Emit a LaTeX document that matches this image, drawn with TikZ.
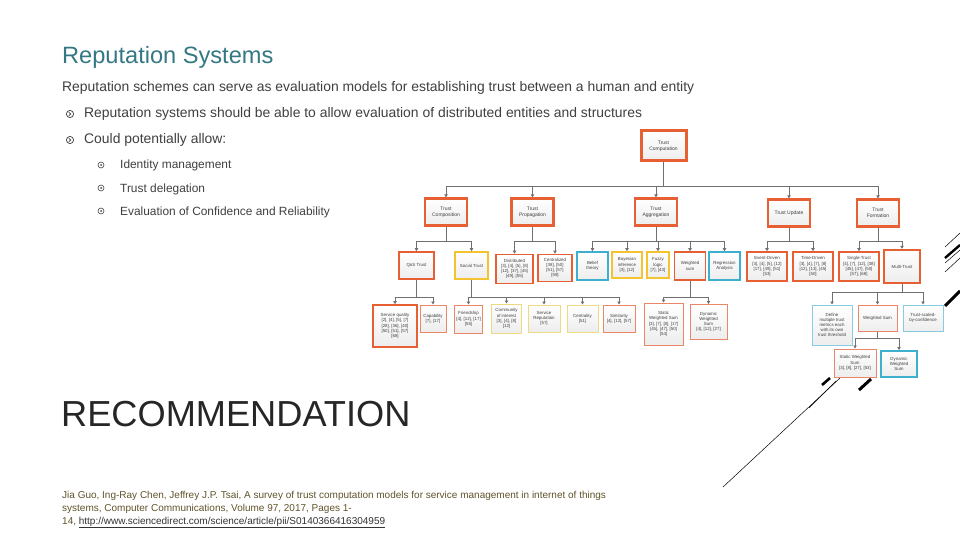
\documentclass[tikz,border=0pt]{standalone}
\usepackage{fontspec}
\setmainfont{Liberation Sans}
\usetikzlibrary{arrows.meta}
\definecolor{titlec}{RGB}{52,120,132}
\definecolor{bodyc}{RGB}{64,64,64}
\definecolor{orc}{RGB}{230,96,52}
\definecolor{orl}{RGB}{234,135,105}
\definecolor{yec}{RGB}{244,196,48}
\definecolor{yel}{RGB}{238,218,130}
\definecolor{blc}{RGB}{60,176,206}
\definecolor{bll}{RGB}{135,204,224}
\definecolor{lnc}{RGB}{112,112,112}
\definecolor{citec}{RGB}{96,84,44}
\tikzset{
  bx/.style={draw=#1, top color=white, bottom color=black!7, align=center, inner sep=0pt,
    text=black!75, font=\fontsize{4.4}{5.2}\selectfont},
  wh/.style 2 args={minimum width=#1pt, minimum height=#2pt},
  lvA/.style={bx=orc, line width=3pt, font=\fontsize{5}{6}\selectfont},
  lvB/.style={bx=orc, line width=2.2pt, font=\fontsize{5}{6}\selectfont},
  oC/.style={bx=orc, line width=1.6pt},
  yC/.style={bx=yec, line width=1.6pt},
  bC/.style={bx=blc, line width=1.6pt},
  oD/.style={bx=orl, line width=1pt},
  yD/.style={bx=yel, line width=1pt},
  bD/.style={bx=bll, line width=1pt},
  conn/.style={draw=lnc, line width=0.8pt, -{Triangle[width=3.4pt,length=3pt]}},
  txt/.style={anchor=base west, inner sep=0pt},
}
\begin{document}
\begin{tikzpicture}[x=1pt,y=-1pt]
\useasboundingbox (0,0) rectangle (960,540);
\fill[white] (0,0) rectangle (960,540);

% ---------- left text ----------
\node[txt, text=titlec, font=\fontsize{23.6}{26}\selectfont] (title) at (62,64) {Reputation Systems};
\node[txt, text=bodyc, font=\fontsize{13.9}{16}\selectfont] (intro) at (62,92) {Reputation schemes can serve as evaluation models for establishing trust between a human and entity};
\node[txt, text=bodyc, font=\fontsize{13.9}{16}\selectfont] (b1) at (84,118) {Reputation systems should be able to allow evaluation of distributed entities and structures};
\node[txt, text=bodyc, font=\fontsize{13.9}{16}\selectfont] (b2) at (84,144) {Could potentially allow:};
\node[txt, text=bodyc, font=\fontsize{11.9}{14}\selectfont] (s1) at (120,169) {Identity management};
\node[txt, text=bodyc, font=\fontsize{11.9}{14}\selectfont] (s2) at (120,192) {Trust delegation};
\node[txt, text=bodyc, font=\fontsize{11.9}{14}\selectfont] (s3) at (120,215) {Evaluation of Confidence and Reliability};
% bullets
\foreach \yy in {114,140}{
  \draw[bodyc, line width=0.7pt] (70,\yy) circle[radius=3.6pt];
  \draw[bodyc, line width=0.7pt] (68.8,\yy-1.8) -- (70.8,\yy) -- (68.8,\yy+1.8);
}
\foreach \yy in {165,188,211}{
  \draw[bodyc, line width=0.6pt] (101,\yy) circle[radius=3pt];
  \fill[bodyc] (101,\yy) circle[radius=1pt];
}
\node[txt, text=black!85, font=\fontsize{36.2}{40}\selectfont] (rec) at (61,426) {RECOMMENDATION};
\node[txt, text=citec, font=\fontsize{10}{11}\selectfont] (c1) at (62,498) {Jia Guo, Ing-Ray Chen, Jeffrey J.P. Tsai, A survey of trust computation models for service management in internet of things};
\node[txt, text=citec, font=\fontsize{10}{11}\selectfont] (c2) at (62,511) {systems, Computer Communications, Volume 97, 2017, Pages 1-};
\node[txt, text=citec, font=\fontsize{10}{11}\selectfont] (c3) at (62,524) {14, {\color{black!80}\underline{http://www.sciencedirect.com/science/article/pii/S0140366416304959}}};

% ---------- diagram ----------
\node[lvA, wh={45}{30}] (top) at (663.5,146) {Trust\\Computation};

\node[lvB, wh={42}{27}] (tc) at (446,212) {Trust\\Composition};
\node[lvB, wh={42}{27}] (tp) at (532.5,212) {Trust\\Propagation};
\node[lvB, wh={42}{27}] (ta) at (656,212) {Trust\\Aggregation};
\node[lvB, wh={42}{27}] (tu) at (789,213) {Trust Update};
\node[lvB, wh={42}{27}] (tf) at (878,213) {Trust\\Formation};

\node[oC, wh={35}{27}] (qos) at (416.5,265.5) {QoS Trust};
\node[yC, wh={33}{27}] (soc) at (471.5,265.5) {Social Trust};
\node[oC, wh={37}{29}] (dist) at (514.5,269) {Distributed\\{}[3], [4], [5], [8]\\{}[12], [37], [45]\\{}[49], [55]};
\node[oC, wh={34}{27}] (cent) at (555,268) {Centralized\\{}[38], [50]\\{}[51], [57]\\{}[59]};
\node[bC, wh={31}{28}] (bel) at (592.5,266) {Belief\\theory};
\node[yC, wh={30}{26}] (bay) at (627,265) {Bayesian\\inference\\{}[3], [12]};
\node[yC, wh={22}{26}] (fuz) at (658,265) {Fuzzy\\logic\\{}[7], [43]};
\node[oC, wh={31}{28}] (ws) at (690,266) {Weighted\\sum};
\node[bC, wh={31}{28}] (reg) at (724.5,266) {Regression\\Analysis};
\node[oC, wh={40}{29}] (ev) at (767,266.5) {Event-Driven\\{}[3], [4], [5], [12]\\{}[17], [49], [51]\\{}[53]};
\node[oC, wh={40}{29}] (td) at (813,266.5) {Time-Driven\\{}[3], [4], [7], [8]\\{}[12], [13], [45]\\{}[50]};
\node[oC, wh={40}{29}] (st) at (859,266.5) {Single-Trust\\{}[4], [7], [12], [38]\\{}[45], [47], [50]\\{}[57], [68]};
\node[bx=orc, line width=2.4pt, wh={36}{33}] (mt) at (902,266.5) {Multi-Trust};

\node[oC, wh={44}{42}] (sq) at (395,326) {Service quality\\{}[2], [4], [5], [7]\\{}[28], [36], [40]\\{}[50], [51], [57]\\{}[68]};
\node[oD, wh={26}{27}] (cap) at (433,318.5) {Capability\\{}[7], [17]};
\node[oD, wh={28}{28}] (fr) at (468.5,319) {Friendship\\{}[4], [12], [17]\\{}[55]};
\node[yD, wh={30}{29}] (coi) at (506.5,318.5) {Community\\of interest\\{}[3], [4], [8]\\{}[12]};
\node[yD, wh={32}{27}] (srep) at (544,318.5) {Service\\Reputation\\{}[57]};
\node[yD, wh={31}{27}] (cen) at (582.5,318.5) {Centrality\\{}[51]};
\node[oD, wh={32}{27}] (sim) at (619,318.5) {Similarity\\{}[4], [12], [57]};
\node[oD, wh={39}{42}] (sws) at (663.5,324) {Static\\Weighted Sum\\{}[3], [7], [8], [17]\\{}[45], [47], [50]\\{}[54]};
\node[oD, wh={37}{35}] (dws) at (708.5,322) {Dynamic\\Weighted\\Sum\\{}[4], [12], [27]};

\node[bD, wh={40}{40}] (def) at (832,325) {Define\\multiple trust\\metrics each\\with its own\\trust threshold};
\node[oD, wh={39}{26}] (mws) at (877.5,318) {Weighted Sum};
\node[bD, wh={40}{26}] (tsc) at (923,318) {Trust-scaled-\\by-confidence};

\node[oD, wh={42}{28}] (sws2) at (855,363) {Static Weighted\\Sum\\{}[3], [8], [27], [53]};
\node[bx=blc, line width=1.8pt, wh={36}{26}] (dws2) at (899,364) {Dynamic\\Weighted\\Sum};

% level rails
\coordinate (r1) at (0,186);
\coordinate (r2) at (0,241);
\coordinate (r3) at (0,297);
\coordinate (r4) at (0,292);
\coordinate (r5) at (0,338);

\foreach \c in {tc,tp,ta,tu,tf}{\draw[conn] (top.south) |- (r1 -| \c) -- (\c.north);}
\foreach \c in {qos,soc}{\draw[conn] (tc.south) |- (r2 -| \c) -- (\c.north);}
\foreach \c in {dist,cent}{\draw[conn] (tp.south) |- (r2 -| \c) -- (\c.north);}
\foreach \c in {bel,bay,fuz,ws,reg}{\draw[conn] (ta.south) |- (r2 -| \c) -- (\c.north);}
\foreach \c in {ev,td}{\draw[conn] (tu.south) |- (r2 -| \c) -- (\c.north);}
\foreach \c in {st,mt}{\draw[conn] (tf.south) |- (r2 -| \c) -- (\c.north);}
\foreach \c in {sq,cap}{\draw[conn] (qos.south) |- (r3 -| \c) -- (\c.north);}
\foreach \c in {fr,coi,srep,cen,sim}{\draw[conn] (soc.south) |- (r3 -| \c) -- (\c.north);}
\foreach \c in {sws,dws}{\draw[conn] (ws.south) |- (r3 -| \c) -- (\c.north);}
\foreach \c in {def,mws,tsc}{\draw[conn] (mt.south) |- (r4 -| \c) -- (\c.north);}
\foreach \c in {sws2,dws2}{\draw[conn] (mws.south) |- (r5 -| \c) -- (\c.north);}

% ---------- slide decoration ----------
\draw[black, line width=0.5pt] (723,487) -- (840,378);
\draw[black, line width=0.5pt] (809,408) -- (836,381);
\draw[black, line width=2.6pt] (822,385) -- (830,378);
\draw[black, line width=3pt] (859,390) -- (871,379);
\draw[black, line width=0.5pt] (945,247) -- (960,233);
\draw[black, line width=2.4pt] (945,258) -- (960,245);
\draw[black, line width=0.5pt] (945,263) -- (960,250);
\draw[black, line width=0.5pt] (945,272) -- (960,258);
\draw[black, line width=3pt] (945,306) -- (960,291);
\end{tikzpicture}
\end{document}
